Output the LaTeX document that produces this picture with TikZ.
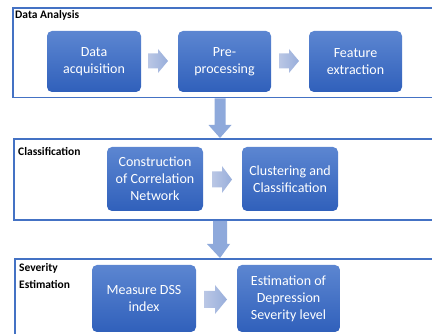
\documentclass[tikz,border=0pt]{standalone}
\usepackage{fontspec}
\setmainfont{Carlito}
\usetikzlibrary{positioning}
\definecolor{frameblue}{HTML}{4472C4}
\definecolor{boxtop}{HTML}{5C86D1}
\definecolor{boxbot}{HTML}{3060BB}
\definecolor{arrL}{HTML}{BAC7E5}
\definecolor{arrR}{HTML}{98AEDB}
\definecolor{arrD}{HTML}{8EA9DB}
\tikzset{
  boxshape/.style={rounded corners=5pt, top color=boxtop, bottom color=boxbot, draw=none},
  boxtext/.style={text=white, align=center, font=\fontsize{14}{17}\selectfont, inner sep=0pt},
  framebox/.style={draw=frameblue, line width=1.3pt, fill=none},
  framelabel/.style={font=\bfseries\fontsize{11.5}{17}\selectfont, anchor=north west, align=left, inner sep=0pt},
  rarrow/.style={left color=arrL, right color=arrR, draw=none},
  darrow/.style={fill=arrD, draw=none}
}
\begin{document}
\begin{tikzpicture}[x=1pt,y=-1pt]
\useasboundingbox (0,0) rectangle (432,334);
\clip (0,0) rectangle (432,334);
% frames
\draw[framebox] (13,8) rectangle (445,97.5);
\draw[framebox] (14,139) rectangle (445,220);
\draw[framebox] (15,259) rectangle (445,345);
% frame labels
\node[framelabel] (l1) at (15,10) {Data Analysis};
\node[framelabel] (l2) at (18,147) {Classification};
\node[framelabel] (l3) at (19,263) {Severity\\Estimation};
% row 1 boxes
\path[boxshape] (47,31) rectangle (141,92);
\node[boxtext] (a) at (94,61.5) {Data\\acquisition};
\path[boxshape] (178,31) rectangle (271,92);
\node[boxtext] (b) at (224.5,61.5) {Pre-\\processing};
\path[boxshape] (309,31) rectangle (402,92);
\node[boxtext] (c) at (355.5,61.5) {Feature\\extraction};
% row 2 boxes
\path[boxshape] (107,147) rectangle (203,211);
\node[boxtext] (d) at (155,179) {Construction\\of Correlation\\Network};
\path[boxshape] (242,147) rectangle (338,211);
\node[boxtext] (e) at (290,179) {Clustering and\\Classification};
% row 3 boxes
\path[boxshape] (92,265) rectangle (196,332);
\node[boxtext] (f) at (144,298.5) {Measure DSS\\index};
\path[boxshape] (237,265) rectangle (340,332);
\node[boxtext] (g) at (288.5,298.5) {Estimation of\\Depression\\Severity level};
% right block arrows
\path[rarrow] (148,53.5) -- (158,53.5) -- (158,49) -- (168,61) -- (158,73) -- (158,68.5) -- (148,68.5) -- cycle;
\path[rarrow] (279,53.5) -- (289,53.5) -- (289,49) -- (299,61) -- (289,73) -- (289,68.5) -- (279,68.5) -- cycle;
\path[rarrow] (212,171.5) -- (222,171.5) -- (222,166) -- (232,179.5) -- (222,193) -- (222,187.5) -- (212,187.5) -- cycle;
\path[rarrow] (204,291) -- (215,291) -- (215,285) -- (227,299.5) -- (215,314) -- (215,308) -- (204,308) -- cycle;
% down block arrows
\path[darrow] (214.5,98.5) -- (225.5,98.5) -- (225.5,125) -- (231.5,125) -- (220,138) -- (208.5,125) -- (214.5,125) -- cycle;
\path[darrow] (213,221) -- (227,221) -- (227,244) -- (230,244) -- (220,258) -- (207,244) -- (213,244) -- cycle;
\end{tikzpicture}
\end{document}
